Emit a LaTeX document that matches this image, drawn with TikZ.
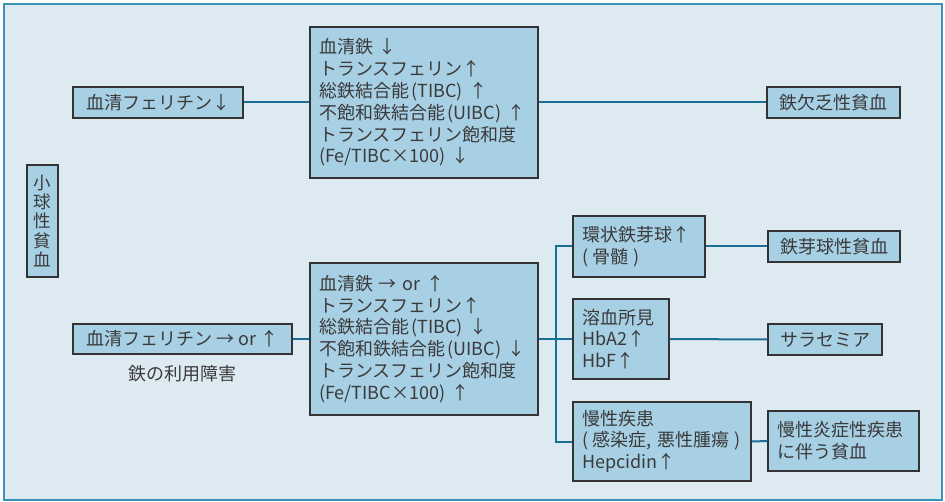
\documentclass[tikz,border=0pt]{standalone}
\usepackage{fontspec}
\setmainfont{Noto Sans CJK JP}
\definecolor{bgfill}{HTML}{DEEAF2}
\definecolor{bgline}{HTML}{3A93B5}
\definecolor{boxfill}{HTML}{A8D0E5}
\definecolor{boxline}{HTML}{333333}
\definecolor{connc}{HTML}{1A6F97}
\definecolor{txt}{HTML}{3A3A3A}
\newcommand{\pk}{\kern2.5pt}
\newcommand{\wk}{\kern4.5pt}
\tikzset{
  box/.style={draw=boxline, line width=1.3pt, fill=boxfill, text=txt, inner xsep=9pt, inner ysep=0pt,
     font=\fontsize{18}{21.8}\selectfont, anchor=center},
  multi/.style n args={2}{box, text width=#1-18pt, minimum height=#2, align=left},
  conn/.style={draw=connc, line width=2pt},
}
\begin{document}
\begin{tikzpicture}[x=1pt,y=-1pt]
\useasboundingbox (0,0) rectangle (945,502);
\fill[bgfill] (4,4) rectangle (942,500);
\draw[bgline, line width=1.2pt] (4,4) rectangle (942,500);

\node[box, minimum width=170pt, minimum height=31pt] (f1) at (158,102.5) {血清フェリチン↓};
\node[multi={228pt}{151pt}] (m1) at (424,102.5) {血清鉄 ↓\\トランスフェリン↑\\総鉄結合能\pk(TIBC) ↑\\不飽和鉄結合能\pk(UIBC) ↑\\トランスフェリン飽和度\\(Fe/TIBC×100) ↓};
\node[box, minimum width=133pt, minimum height=31pt] (d1) at (833.5,102.5) {鉄欠乏性貧血};

\node[box, inner xsep=0pt, minimum width=31pt, minimum height=112pt, align=center, font=\fontsize{17.5}{19.3}\selectfont] (v) at (42.5,221) {小\\球\\性\\貧\\血};

\node[box, minimum width=219pt, minimum height=30pt] (f2) at (182.5,339) {血清フェリチン → or ↑};
\node[text=txt, font=\fontsize{18}{22}\selectfont, inner sep=0pt] (lab) at (182.5,374) {鉄の利用障害};
\node[multi={228pt}{152pt}] (m2) at (424,339) {血清鉄 → or ↑\\トランスフェリン↑\\総鉄結合能\pk(TIBC) ↓\\不飽和鉄結合能\pk(UIBC) ↓\\トランスフェリン飽和度\\(Fe/TIBC×100) ↑};

\node[multi={132pt}{61pt}] (r1) at (639,246.5) {環状鉄芽球↑\\(\wk 骨髄\wk)};
\node[box, minimum width=132pt, minimum height=31pt] (e1) at (834,246.5) {鉄芽球性貧血};
\node[multi={96pt}{80pt}] (r2) at (621,339) {溶血所見\\HbA2↑\\HbF↑};
\node[box, minimum width=114pt, minimum height=31pt] (e2) at (825,339.5) {サラセミア};
\node[multi={178pt}{79pt}] (r3) at (662,441.5) {慢性疾患\\(\wk 感染症, 悪性腫瘍\wk)\\Hepcidin↑};
\node[multi={151pt}{60pt}] (e3) at (843.5,441) {慢性炎症性疾患\\に伴う貧血};

\coordinate (jt) at (556,246.5);
\coordinate (jb) at (556,441.5);

\draw[conn] (f1.east) -- (m1.west);
\draw[conn] (m1.east) -- (d1.west);
\draw[conn] (f2.east) -- (m2.west);
\draw[conn] (m2.east) -- (r2.west);
\draw[conn] (r1.west) -- (jt) -- (jb) -- (r3.west);
\draw[conn] (r1.east) -- (e1.west);
\draw[conn] (r2.east) -- (e2.west);
\draw[conn] (r3.east) -- (e3.west);
\end{tikzpicture}
\end{document}
